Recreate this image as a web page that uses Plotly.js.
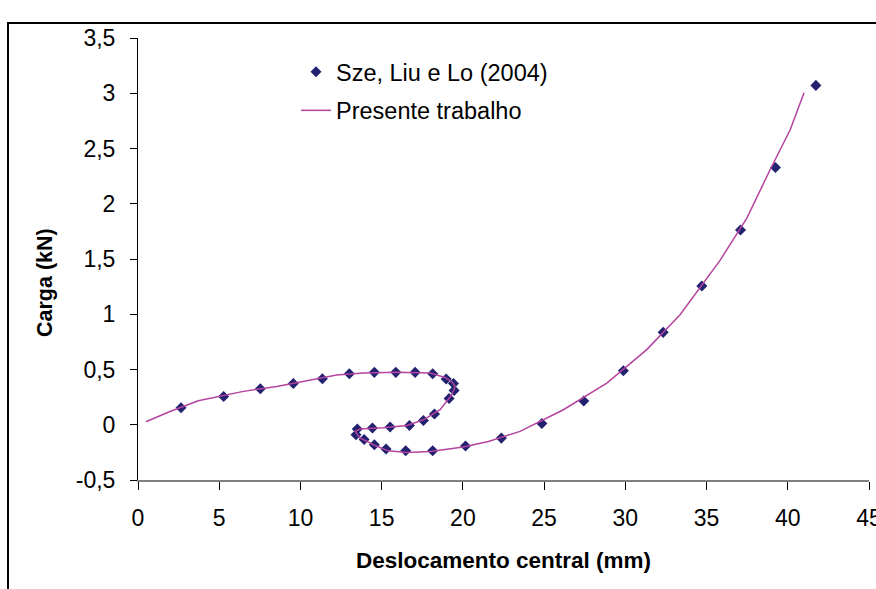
<!DOCTYPE html>
<html>
<head>
<meta charset="utf-8">
<script src="https://cdn.plot.ly/plotly-3.0.1.min.js"></script>
<style>
  html, body { margin: 0; padding: 0; background: #ffffff; }
  #chart { width: 876px; height: 589px; }
</style>
</head>
<body>
<div id="chart"></div>
<script>
// Sze, Liu e Lo (2004) - reference points
const szeX = [2.65, 5.27, 7.53, 9.56, 11.35, 13.01, 14.55, 15.87, 17.06, 18.14, 18.97, 19.42, 19.46, 19.15, 18.25, 17.57, 16.71, 15.52, 14.43, 13.50, 13.42, 13.92, 14.55, 15.27, 16.48, 18.14, 20.16, 22.37, 24.86, 27.44, 29.88, 32.33, 34.71, 37.09, 39.24, 41.73];
const szeY = [0.154, 0.256, 0.326, 0.374, 0.417, 0.462, 0.474, 0.474, 0.474, 0.462, 0.414, 0.374, 0.311, 0.238, 0.097, 0.039, -0.006, -0.021, -0.030, -0.039, -0.090, -0.133, -0.181, -0.220, -0.236, -0.236, -0.193, -0.121, 0.012, 0.215, 0.489, 0.836, 1.256, 1.763, 2.328, 3.071];

// Presente trabalho - computed path
const presX = [0.49, 1.97, 3.71, 5.10, 6.49, 8.54, 10.59, 12.23, 13.87, 15.93, 17.98, 18.90, 19.35, 19.52, 19.32, 18.60, 17.57, 16.55, 15.10, 13.67, 13.36, 13.67, 14.49, 15.41, 16.55, 17.98, 20.03, 21.57, 23.52, 26.19, 28.86, 31.32, 33.37, 35.84, 37.48, 38.92, 40.15, 41.00];
const presY = [0.027, 0.120, 0.217, 0.262, 0.302, 0.347, 0.401, 0.450, 0.468, 0.474, 0.468, 0.428, 0.385, 0.347, 0.272, 0.136, 0.045, -0.006, -0.027, -0.039, -0.060, -0.120, -0.181, -0.236, -0.251, -0.242, -0.202, -0.151, -0.060, 0.136, 0.377, 0.680, 0.996, 1.490, 1.870, 2.310, 2.670, 3.005];

const xTicks = [0, 5, 10, 15, 20, 25, 30, 35, 40, 45];
const yTicks = [-0.5, 0, 0.5, 1, 1.5, 2, 2.5, 3, 3.5];

const FONT = 'Liberation Sans, Arial, sans-serif';

const traces = [
  {
    x: szeX, y: szeY, type: 'scatter', mode: 'markers',
    name: 'Sze, Liu e Lo (2004)', legendgroup: 'a',
    marker: { symbol: 'diamond', size: 8.5, color: '#222270' }
  },
  {
    x: presX, y: presY, type: 'scatter', mode: 'lines',
    name: 'Presente trabalho', legendgroup: 'b',
    line: { color: '#B5449F', width: 1.5 }
  }
];

const L = 138, R = 869, T = 38, B = 480;
const pw = R - L, ph = B - T;
const px = v => (v - L) / pw;
const py = v => (B - v) / ph;

const layout = {
  width: 876, height: 589,
  margin: { l: L, r: 876 - R, t: T, b: 589 - B },
  paper_bgcolor: '#ffffff', plot_bgcolor: '#ffffff',
  separators: ',.',
  font: { family: FONT, color: '#000000', size: 23 },
  showlegend: true,
  legend: {
    x: px(296), y: py(50), xanchor: 'left', yanchor: 'top',
    bgcolor: 'rgba(0,0,0,0)', borderwidth: 0,
    font: { family: FONT, size: 23.5, color: '#000' },
    traceorder: 'grouped', tracegroupgap: 5
  },
  xaxis: {
    range: [0, 45], tickvals: xTicks, ticktext: xTicks.map(String),
    showgrid: false, zeroline: false,
    showline: true, linecolor: '#808080', linewidth: 1.5,
    ticks: 'outside', ticklen: 8, tickcolor: '#000000', tickwidth: 1,
    ticklabelstandoff: 9, ticklabeloverflow: 'allow',
    tickfont: { family: FONT, size: 23, color: '#000' },
    title: { text: 'Deslocamento central (mm)', font: { family: FONT, size: 22.5, color: '#000', weight: 'bold' }, standoff: 22 },
    fixedrange: true
  },
  yaxis: {
    range: [-0.5, 3.5], tickvals: yTicks, ticktext: yTicks.map(v => String(v).replace('.', ',')),
    showgrid: false, zeroline: false,
    showline: true, linecolor: '#000000', linewidth: 1,
    ticks: 'outside', ticklen: 7, tickcolor: '#000000', tickwidth: 1,
    ticklabelstandoff: 10,
    tickfont: { family: FONT, size: 23, color: '#000' },
    fixedrange: true
  },
  annotations: [
    {
      text: '<b>Carga (kN)</b>', textangle: -90,
      xref: 'paper', yref: 'paper', x: px(45), y: py(282),
      xanchor: 'center', yanchor: 'middle', showarrow: false,
      font: { family: FONT, size: 21.5, color: '#000' }
    }
  ],
  shapes: [
    {
      type: 'path', xref: 'paper', yref: 'paper',
      path: 'M ' + px(8) + ' ' + py(600) + ' L ' + px(8) + ' ' + py(23) + ' L ' + px(880) + ' ' + py(23),
      line: { color: '#000000', width: 2 }
    }
  ]
};

Plotly.newPlot('chart', traces, layout, { displayModeBar: false, staticPlot: true });
</script>
</body>
</html>
